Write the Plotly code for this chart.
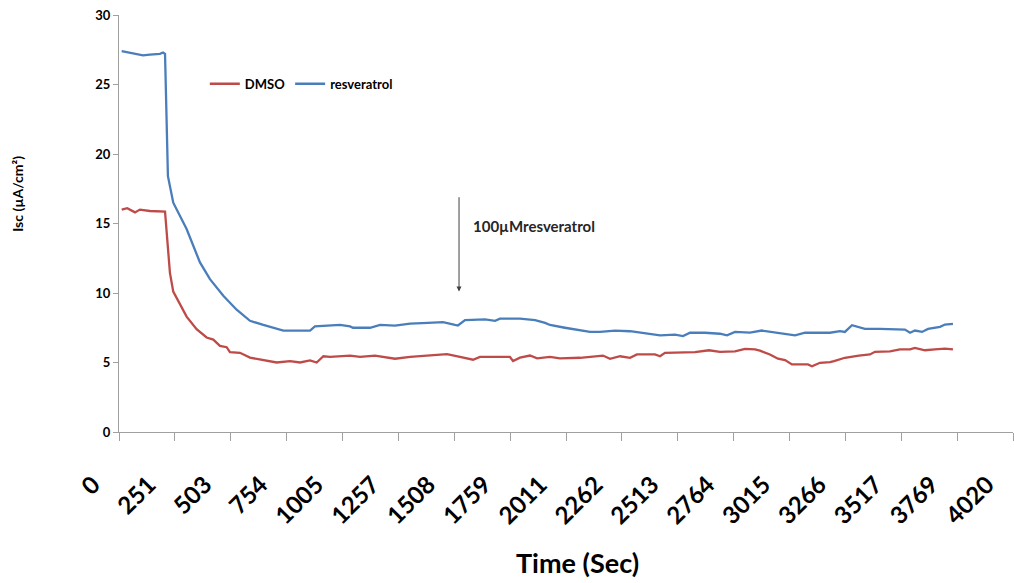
import plotly.graph_objects as go

# ---- data ----
dmso_time = [12, 37, 72, 94, 139, 185, 207, 229, 244, 304, 349, 394, 424, 454, 484, 499, 544,
             589, 649, 709, 769, 814, 859, 889, 919, 949, 1039, 1084, 1151, 1241, 1309, 1398,
             1475, 1533, 1592, 1623, 1713, 1758, 1772, 1803, 1848, 1880, 1938, 1983, 2073,
             2176, 2208, 2253, 2298, 2329, 2410, 2433, 2455, 2527, 2590, 2653, 2702, 2770,
             2815, 2860, 2882, 2927, 2963, 2995, 3026, 3098, 3116, 3152, 3197, 3215, 3264,
             3327, 3377, 3399, 3467, 3512, 3557, 3579, 3624, 3669, 3714, 3750]
dmso_isc = [16.0, 16.1, 15.8, 16.0, 15.9, 15.9, 15.85, 11.45, 10.1, 8.3, 7.4, 6.8, 6.65, 6.2,
            6.1, 5.75, 5.7, 5.35, 5.15, 5.0, 5.1, 5.0, 5.15, 5.0, 5.45, 5.4, 5.5, 5.4, 5.5,
            5.27, 5.4, 5.5, 5.6, 5.4, 5.2, 5.4, 5.4, 5.4, 5.1, 5.35, 5.5, 5.3, 5.4, 5.3,
            5.34, 5.5, 5.27, 5.45, 5.34, 5.58, 5.58, 5.45, 5.7, 5.7, 5.74, 5.88, 5.77, 5.8,
            5.98, 5.94, 5.85, 5.58, 5.27, 5.17, 4.86, 4.86, 4.73, 4.98, 5.02, 5.1, 5.34,
            5.5, 5.58, 5.77, 5.8, 5.94, 5.94, 6.05, 5.88, 5.94, 6.0, 5.94]

resv_time = [12, 49, 108, 139, 184, 198, 207, 220, 244, 304, 364, 409, 469, 529, 589, 649,
             739, 799, 859, 881, 994, 1039, 1052, 1129, 1174, 1241, 1309, 1389, 1457, 1511,
             1524, 1556, 1646, 1691, 1713, 1803, 1871, 1916, 1938, 2005, 2050, 2118, 2163,
             2230, 2298, 2365, 2433, 2500, 2536, 2568, 2635, 2702, 2734, 2770, 2837, 2891,
             2972, 3040, 3085, 3197, 3242, 3264, 3296, 3354, 3422, 3489, 3534, 3557, 3579,
             3611, 3638, 3692, 3714, 3750]
resv_isc = [27.4, 27.3, 27.1, 27.15, 27.2, 27.3, 27.2, 18.4, 16.5, 14.6, 12.2, 11.0, 9.8, 8.8,
            8.0, 7.7, 7.3, 7.3, 7.3, 7.6, 7.7, 7.6, 7.5, 7.5, 7.7, 7.66, 7.8, 7.85, 7.9, 7.7,
            7.66, 8.05, 8.1, 8.0, 8.15, 8.15, 8.05, 7.85, 7.7, 7.5, 7.4, 7.2, 7.2, 7.3, 7.25,
            7.1, 6.95, 7.0, 6.9, 7.14, 7.14, 7.07, 6.95, 7.2, 7.15, 7.3, 7.1, 6.95, 7.14,
            7.14, 7.25, 7.2, 7.68, 7.42, 7.42, 7.37, 7.37, 7.14, 7.3, 7.2, 7.42, 7.57, 7.73,
            7.78]

x_tick_values = [0, 251.25, 502.5, 753.75, 1005, 1256.25, 1507.5, 1758.75, 2010, 2261.25,
                 2512.5, 2763.75, 3015, 3266.25, 3517.5, 3768.75, 4020]
x_tick_labels = ["0", "251", "503", "754", "1005", "1257", "1508", "1759", "2011", "2262",
                 "2513", "2764", "3015", "3266", "3517", "3769", "4020"]
y_tick_values = [0, 5, 10, 15, 20, 25, 30]

arrow_time = 1529
arrow_from, arrow_to = 17.0, 10.1
label_time, label_isc = 1583, 14.8

FONT = "Lato"
AXIS_COLOR = "#a0a0a0"

fig = go.Figure()
fig.add_trace(go.Scatter(x=dmso_time, y=dmso_isc, mode="lines", name="DMSO",
                         line=dict(color="#BE4B48", width=2.3)))
fig.add_trace(go.Scatter(x=resv_time, y=resv_isc, mode="lines", name="resveratrol",
                         line=dict(color="#4A7EBB", width=2.3)))

fig.add_annotation(x=arrow_time, y=arrow_to, ax=arrow_time, ay=arrow_from,
                   xref="x", yref="y", axref="x", ayref="y", text="",
                   showarrow=True, arrowhead=2, arrowsize=1, arrowwidth=1,
                   arrowcolor="#404040")
fig.add_annotation(x=label_time, y=label_isc, xref="x", yref="y", text="100µMresveratrol",
                   showarrow=False, xanchor="left", yanchor="middle",
                   font=dict(family=FONT, size=15, color="#262626", weight="bold"))
fig.add_annotation(x=-0.113, y=0.571, xref="paper", yref="paper", text="Isc (µA/cm²)",
                   textangle=-90, showarrow=False, xanchor="center", yanchor="middle",
                   font=dict(family=FONT, size=14, color="#000000", weight="bold"))
fig.add_annotation(x=0.513, y=-0.312, xref="paper", yref="paper", text="Time (Sec)",
                   showarrow=False, xanchor="center", yanchor="middle",
                   font=dict(family=FONT, size=27, color="#000000", weight="bold"))

fig.update_layout(
    width=1014, height=583,
    margin=dict(l=119, r=1, t=15, b=151, autoexpand=False),
    paper_bgcolor="white", plot_bgcolor="white",
    showlegend=True,
    legend=dict(orientation="h", x=0.096, y=0.835, xanchor="left", yanchor="middle",
                font=dict(family=FONT, size=13, color="#000000", weight="bold"),
                bgcolor="rgba(0,0,0,0)", itemwidth=30),
    xaxis=dict(range=[0, 4020], tickmode="array", tickvals=x_tick_values,
               ticktext=x_tick_labels, tickangle=-45, showgrid=False, zeroline=False,
               showline=True, linecolor=AXIS_COLOR, linewidth=1, automargin=False,
               ticks="outside", ticklen=8, tickcolor=AXIS_COLOR,
               tickfont=dict(family=FONT, size=24, color="#000000", weight="bold"),
               ticklabelstandoff=20, ticklabelshift=-26),
    yaxis=dict(range=[0, 30], tickmode="array", tickvals=y_tick_values,
               showgrid=False, zeroline=False, showline=True, linecolor=AXIS_COLOR,
               linewidth=1, ticks="outside", ticklen=5, tickcolor=AXIS_COLOR, automargin=False,
               tickfont=dict(family=FONT, size=13, color="#000000", weight="bold")),
)

fig.write_html("out.html", config={"displayModeBar": False},
               post_script="document.body.style.margin='0';")
